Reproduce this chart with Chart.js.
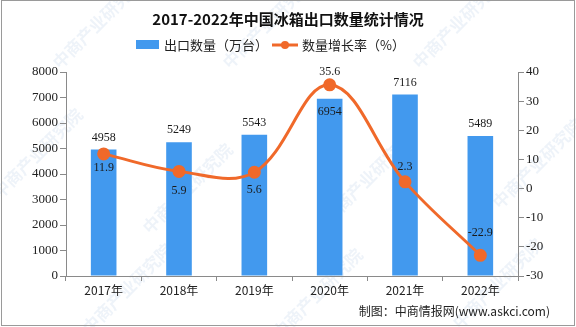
<!DOCTYPE html>
<html>
<head>
<meta charset="utf-8">
<script src="https://cdn.jsdelivr.net/npm/chart.js@4/dist/chart.umd.min.js"></script>
<style>
  html, body { margin: 0; padding: 0; background: #fff; }
  #wrap { position: relative; width: 576px; height: 327px; }
  canvas { display: block; }
</style>
</head>
<body>
<div id="wrap"><canvas id="c" width="576" height="327"></canvas></div>
<script>
// Years, export volume (10k units) and year-on-year growth (%)
const categories = ['2017年', '2018年', '2019年', '2020年', '2021年', '2022年'];
const exportVolume = [4958, 5249, 5543, 6954, 7116, 5489];
const growthRate = [11.9, 5.9, 5.6, 35.6, 2.3, -22.9];
const leftTicks = [0, 1000, 2000, 3000, 4000, 5000, 6000, 7000, 8000];
const rightTicks = [-30, -20, -10, 0, 10, 20, 30, 40];

const titleText = '2017-2022年中国冰箱出口数量统计情况';
const barLabel = '出口数量（万台）';
const lineLabel = '数量增长率（%）';
const sourceText = '制图：中商情报网(www.askci.com)';

const BAR_COLOR = '#4299EE';
const LINE_COLOR = '#F0692A';
const CJK = '"Noto Sans CJK SC", "Noto Sans", sans-serif';
const NUM = '"Liberation Serif", "DejaVu Serif", serif';

// vertical offsets for the value labels (negative = above the mark)
const barLabelOffset = [-12, -12, -12, 13, -12, -12];
const lineLabelOffset = [14, 19, 18, -13, -15, -22];

const decor = {
  id: 'decor',
  beforeDraw(chart) {
    const ctx = chart.ctx;
    ctx.save();
    ctx.fillStyle = '#fff';
    ctx.fillRect(0, 0, chart.width, chart.height);
    // faint diagonal watermark
    ctx.fillStyle = 'rgba(120,160,205,0.13)';
    ctx.font = 'bold 17px ' + CJK;
    const spots = [[60, 70], [230, 70], [420, 70], [0, 200], [150, 235], [330, 225], [500, 210], [90, 335], [280, 340], [460, 330]];
    for (const [x, y] of spots) {
      ctx.save();
      ctx.translate(x, y);
      ctx.rotate(-Math.PI / 4);
      ctx.fillText('中商产业研究院', 0, 0);
      ctx.restore();
    }
    ctx.restore();
  },
  afterDraw(chart) {
    const ctx = chart.ctx;
    ctx.save();
    // outer frame
    ctx.strokeStyle = '#9a9a9a';
    ctx.lineWidth = 1;
    ctx.strokeRect(1.5, 0.5, chart.width - 3, chart.height - 2);

    // title
    ctx.fillStyle = '#111';
    ctx.font = 'bold 15px ' + CJK;
    ctx.textAlign = 'center';
    ctx.textBaseline = 'middle';
    ctx.fillText(titleText, 288, 19);

    // legend
    ctx.font = '13px ' + CJK;
    ctx.textAlign = 'left';
    ctx.fillStyle = BAR_COLOR;
    ctx.fillRect(136, 40, 23, 9);
    ctx.fillStyle = '#222';
    ctx.fillText(barLabel, 164, 45);
    ctx.strokeStyle = LINE_COLOR;
    ctx.lineWidth = 3;
    ctx.beginPath();
    ctx.moveTo(272, 45);
    ctx.lineTo(298, 45);
    ctx.stroke();
    ctx.fillStyle = LINE_COLOR;
    ctx.beginPath();
    ctx.arc(285, 45, 4, 0, Math.PI * 2);
    ctx.fill();
    ctx.fillStyle = '#222';
    ctx.fillText(lineLabel, 302, 45);

    // source note
    ctx.font = '12px ' + CJK;
    ctx.textAlign = 'right';
    ctx.fillStyle = '#222';
    ctx.fillText(sourceText, 550, 311);

    // value labels
    ctx.font = '12px ' + NUM;
    ctx.textAlign = 'center';
    ctx.fillStyle = '#1a1a1a';
    const barMeta = chart.getDatasetMeta(0);
    barMeta.data.forEach((el, i) => {
      ctx.fillText(String(exportVolume[i]), el.x, el.y + barLabelOffset[i]);
    });
    const lineMeta = chart.getDatasetMeta(1);
    lineMeta.data.forEach((el, i) => {
      ctx.fillText(growthRate[i].toFixed(1), el.x, el.y + lineLabelOffset[i]);
    });
    ctx.restore();
  }
};

new Chart(document.getElementById('c'), {
  type: 'bar',
  data: {
    labels: categories,
    datasets: [
      {
        type: 'bar',
        label: barLabel,
        data: exportVolume,
        backgroundColor: BAR_COLOR,
        yAxisID: 'y',
        categoryPercentage: 1,
        barPercentage: 0.34,
        order: 2
      },
      {
        type: 'line',
        label: lineLabel,
        data: growthRate,
        borderColor: LINE_COLOR,
        backgroundColor: LINE_COLOR,
        borderWidth: 3,
        pointRadius: 5,
        pointHoverRadius: 5,
        tension: 0.38,
        yAxisID: 'y1',
        order: 1
      }
    ]
  },
  options: {
    responsive: false,
    animation: false,
    devicePixelRatio: 1,
    layout: { padding: { top: 72, left: 0, right: 0, bottom: 0 } },
    plugins: { legend: { display: false }, title: { display: false }, tooltip: { enabled: false } },
    scales: {
      x: {
        grid: { display: true, drawOnChartArea: false, drawTicks: true, tickLength: 5, color: '#8a8a8a', offset: true },
        border: { color: '#8a8a8a' },
        ticks: { color: '#222', font: { family: CJK, size: 12 }, padding: 2, maxRotation: 0 },
        afterFit(s) { s.height = 51; }
      },
      y: {
        position: 'left',
        min: 0, max: 8000,
        afterBuildTicks(s) { s.ticks = leftTicks.map(v => ({ value: v })); },
        grid: { drawOnChartArea: false, drawTicks: true, tickLength: 6, color: '#8a8a8a' },
        border: { color: '#8a8a8a' },
        ticks: { color: '#222', font: { family: NUM, size: 13 }, padding: 2, callback: v => String(v) },
        afterFit(s) { s.width = 66; }
      },
      y1: {
        position: 'right',
        min: -30, max: 40,
        afterBuildTicks(s) { s.ticks = rightTicks.map(v => ({ value: v })); },
        grid: { drawOnChartArea: false, drawTicks: true, tickLength: 6, color: '#8a8a8a' },
        border: { color: '#8a8a8a' },
        ticks: { color: '#222', font: { family: NUM, size: 13 }, padding: 2, callback: v => String(v) },
        afterFit(s) { s.width = 58; }
      }
    }
  },
  plugins: [decor]
});
</script>
</body>
</html>
